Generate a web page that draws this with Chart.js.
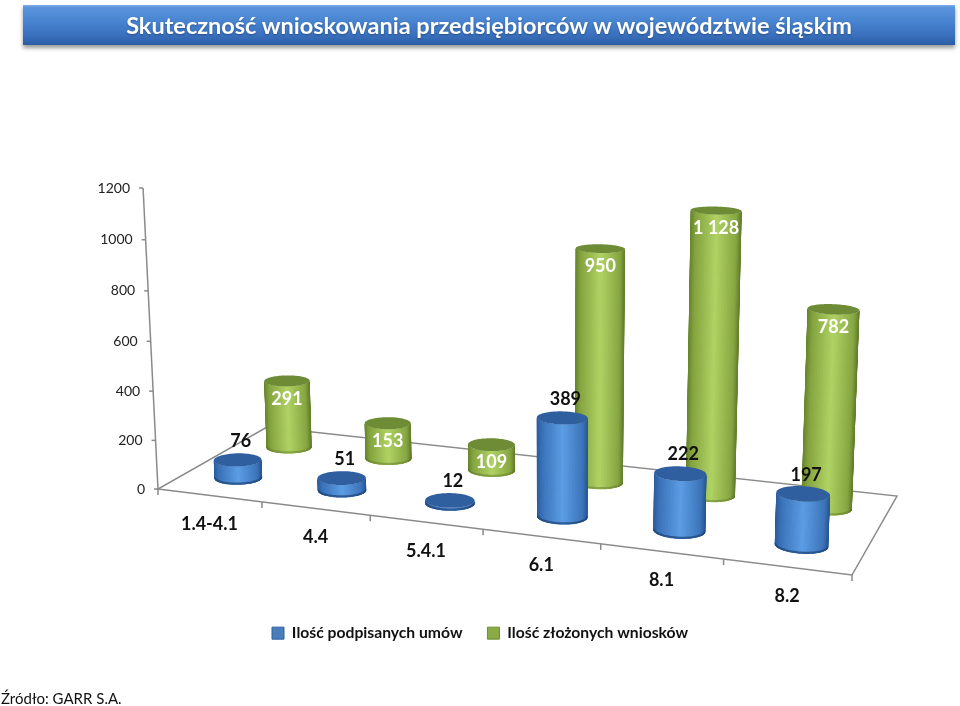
<!DOCTYPE html>
<html>
<head>
<meta charset="utf-8">
<script src="https://cdn.jsdelivr.net/npm/chart.js@4"></script>
<style>
  html, body { margin: 0; padding: 0; background: #fff; }
  #wrap { position: relative; width: 960px; height: 706px; overflow: hidden; }
  #banner {
    position: absolute; left: 23px; top: 5px; width: 932px; height: 40px;
    background: linear-gradient(to bottom, #7fb0ea 0, #5a94dc 6%, #4682cf 45%, #3a70bd 75%, #2b5da6 100%);
    box-shadow: 0 3px 4px rgba(0,0,0,.4);
    color: #fff; text-align: center; font: bold 23.5px Lato, sans-serif; line-height: 41px;
    text-shadow: 0 1px 2px rgba(0,0,0,.3);
  }
  #source { position: absolute; left: 1px; top: 689px; font: 15px Lato, sans-serif; color: #111; }
  canvas { position: absolute; left: 0; top: 0; }
</style>
</head>
<body>
<div id="wrap">
  <canvas id="chart" width="960" height="706"></canvas>
  <div id="banner">Skuteczność wnioskowania przedsiębiorców w województwie śląskim</div>
  <div id="source">Źródło: GARR S.A.</div>
</div>
<script>
var categories = ['1.4-4.1', '4.4', '5.4.1', '6.1', '8.1', '8.2'];
var umowy = [76, 51, 12, 389, 222, 197];
var wnioski = [291, 153, 109, 950, 1128, 782];
var seriesNames = ['Ilość podpisanych umów', 'Ilość złożonych wniosków'];

// floor corners on screen: front-left, front-right, back-right, back-left
var p0 = [158, 489], p1 = [852, 575], p2 = [897, 496], p3 = [267, 427];
var vanish = [550, 8390], kv = -0.0367;   // where the verticals meet
var depth = [0.255, 0.74], ringD = 0.095;

var dx1 = p1[0] - p2[0], dx2 = p3[0] - p2[0], sx = p0[0] - p1[0] + p2[0] - p3[0];
var dy1 = p1[1] - p2[1], dy2 = p3[1] - p2[1], sy = p0[1] - p1[1] + p2[1] - p3[1];
var den = dx1 * dy2 - dx2 * dy1;
var g = (sx * dy2 - dx2 * sy) / den, h = (dx1 * sy - sx * dy1) / den;
var a = p1[0] - p0[0] + g * p1[0], b = p3[0] - p0[0] + h * p3[0];
var d = p1[1] - p0[1] + g * p1[1], e = p3[1] - p0[1] + h * p3[1];

function proj(u, dp, v) {
  var w = g * u + h * dp + 1 + v * kv;
  return [(a * u + b * dp + p0[0] + v * kv * vanish[0]) / w,
          (d * u + e * dp + p0[1] + v * kv * vanish[1]) / w];
}

var looks = [
  { stops: [[0, '#2c5c9a'], [0.1, '#3a72b8'], [0.5, '#5c9de4'], [0.9, '#3c74ba'], [1, '#2a5894']], top: '#2f5f9f', rim: 'rgba(30,65,115,.7)' },
  { stops: [[0, '#66832e'], [0.1, '#84a43f'], [0.5, '#b0d264'], [0.9, '#86a641'], [1, '#647f2d']], top: '#6e8c36', rim: 'rgba(90,115,40,.45)' }
];

function hex(c) { return [1, 3, 5].map(function (i) { return parseInt(c.substr(i, 2), 16); }); }
function shade(stops, t) {
  for (var i = 1; i < stops.length; i++) {
    if (t <= stops[i][0]) {
      var k = (t - stops[i - 1][0]) / (stops[i][0] - stops[i - 1][0]);
      var c0 = hex(stops[i - 1][1]), c1 = hex(stops[i][1]);
      return 'rgb(' + c0.map(function (v, j) { return Math.round(v + (c1[j] - v) * k); }).join(',') + ')';
    }
  }
  return stops[stops.length - 1][1];
}

function ring(uc, dc, ru, v) {
  var pts = [];
  for (var i = 0; i < 96; i++) {
    var an = i / 96 * 2 * Math.PI;
    pts.push(proj(uc + ru * Math.cos(an), dc + ringD * Math.sin(an), v));
  }
  return pts;
}

function fillPoly(ctx, pts) {
  ctx.beginPath();
  pts.forEach(function (p, i) { i ? ctx.lineTo(p[0], p[1]) : ctx.moveTo(p[0], p[1]); });
  ctx.closePath();
  ctx.fill();
}

function cylinder(ctx, chart, bar, look, dc) {
  var xs = chart.scales.x, ys = chart.scales.y;
  var uc = (bar.x - xs.left) / xs.width, ru = bar.width / 2 / xs.width;
  var v = (ys.bottom - bar.y) / ys.height;
  var low = ring(uc, dc, ru, 0), up = ring(uc, dc, ru, v);
  var iL = 0, iR = 0;
  low.forEach(function (p, i) {
    if (p[0] < low[iL][0]) iL = i;
    if (p[0] > low[iR][0]) iR = i;
  });
  var xL = low[iL][0], xR = low[iR][0], n = low.length;

  // silhouette as clip so the slices leave a clean edge
  ctx.save();
  ctx.beginPath();
  var front = [];
  for (var i = iL; i % n !== iR; i++) front.push(i % n);
  front.push(iR);
  front.forEach(function (j, k) { k ? ctx.lineTo(low[j][0], low[j][1]) : ctx.moveTo(low[j][0], low[j][1]); });
  front.slice().reverse().forEach(function (j) { ctx.lineTo(up[j][0], up[j][1]); });
  ctx.closePath();
  ctx.clip();
  ctx.lineWidth = 1;
  for (i = 0; i < front.length - 1; i++) {
    var j = front[i], m = front[i + 1];
    var col = shade(look.stops, (low[j][0] - xL) / (xR - xL));
    ctx.fillStyle = ctx.strokeStyle = col;
    ctx.beginPath();
    ctx.moveTo(low[j][0], low[j][1]); ctx.lineTo(low[m][0], low[m][1]);
    ctx.lineTo(up[m][0], up[m][1]); ctx.lineTo(up[j][0], up[j][1]);
    ctx.closePath(); ctx.fill(); ctx.stroke();
  }
  // dark rim along the foot
  ctx.strokeStyle = look.rim; ctx.lineWidth = 2.5;
  ctx.beginPath();
  front.forEach(function (j, k) { k ? ctx.lineTo(low[j][0], low[j][1] - 1) : ctx.moveTo(low[j][0], low[j][1] - 1); });
  ctx.stroke();
  ctx.restore();

  ctx.fillStyle = look.top;
  fillPoly(ctx, up);
}

var scene3d = {
  id: 'scene3d',
  beforeDatasetsDraw: function (chart) {
    var ctx = chart.ctx, xs = chart.scales.x, ys = chart.scales.y;
    ctx.save();
    // floor and walls
    ctx.strokeStyle = '#8a8a8a'; ctx.lineWidth = 1.5;
    ctx.beginPath();
    ctx.moveTo(p0[0], p0[1]); ctx.lineTo(p1[0], p1[1]); ctx.lineTo(p2[0], p2[1]); ctx.lineTo(p3[0], p3[1]);
    ctx.closePath(); ctx.stroke();
    var foot = proj(0, 0, 0), head = proj(0, 0, 1);
    ctx.beginPath(); ctx.moveTo(foot[0], foot[1]); ctx.lineTo(head[0], head[1]); ctx.stroke();
    // value axis
    ctx.font = '14px Lato, sans-serif'; ctx.textAlign = 'right'; ctx.textBaseline = 'middle';
    ys.ticks.forEach(function (t) {
      var p = proj(0, 0, (ys.bottom - ys.getPixelForValue(t.value)) / ys.height);
      ctx.beginPath(); ctx.moveTo(p[0] - 4, p[1]); ctx.lineTo(p[0], p[1]); ctx.stroke();
      ctx.fillStyle = '#222';
      ctx.fillText(String(t.value), p[0] - 13, p[1]);
    });
    // category axis
    var nCat = xs.ticks.length;
    for (var i = 0; i <= nCat; i++) {
      var q = proj(i / nCat, 0, 0);
      ctx.beginPath(); ctx.moveTo(q[0], q[1]); ctx.lineTo(q[0], q[1] + 6); ctx.stroke();
    }
    ctx.font = 'bold 18px Lato, sans-serif'; ctx.textAlign = 'center'; ctx.fillStyle = '#111';
    xs.ticks.forEach(function (t, i) {
      var c = proj((xs.getPixelForTick(i) - xs.left) / xs.width, 0, 0);
      ctx.fillText(t.label, c[0], c[1] + 29);
    });
    // bars, back row first
    [1, 0].forEach(function (ds) {
      chart.getDatasetMeta(ds).data.forEach(function (bar) {
        cylinder(ctx, chart, bar, looks[ds], depth[ds]);
      });
    });
    // value labels
    ctx.font = 'bold 18px Lato, sans-serif';
    [1, 0].forEach(function (ds) {
      var values = chart.data.datasets[ds].data;
      chart.getDatasetMeta(ds).data.forEach(function (bar, i) {
        var v = (ys.bottom - bar.y) / ys.height;
        var tp = proj((bar.x - xs.left) / xs.width, depth[ds], v);
        ctx.fillStyle = ds ? '#fff' : '#111';
        var txt = String(values[i]).replace(/\B(?=(\d{3})+$)/g, ' ');
        ctx.fillText(txt, tp[0] + (ds ? 0 : 3), tp[1] + (ds ? 18 : -19));
      });
    });
    ctx.restore();
    return false;
  }
};

new Chart(document.getElementById('chart'), {
  type: 'bar',
  data: {
    labels: categories,
    datasets: [
      { label: seriesNames[0], data: umowy, backgroundColor: '#4a7ebb', borderColor: '#2f5f9f', borderWidth: 1 },
      { label: seriesNames[1], data: wnioski, backgroundColor: '#8aaa45', borderColor: '#6e8c36', borderWidth: 1 }
    ]
  },
  plugins: [scene3d],
  options: {
    responsive: false,
    animation: false,
    devicePixelRatio: 1,
    layout: { padding: { bottom: 55 } },
    datasets: { bar: { grouped: false, categoryPercentage: 0.42, barPercentage: 1 } },
    scales: {
      x: { display: false },
      y: { display: false, min: 0, max: 1200, ticks: { stepSize: 200 } }
    },
    plugins: {
      title: { display: false },
      tooltip: { enabled: false },
      legend: {
        position: 'bottom',
        labels: { boxWidth: 12, boxHeight: 12, padding: 25, color: '#111', font: { family: 'Lato, sans-serif', size: 15.7, weight: 'bold' } }
      }
    }
  }
});
</script>
</body>
</html>
